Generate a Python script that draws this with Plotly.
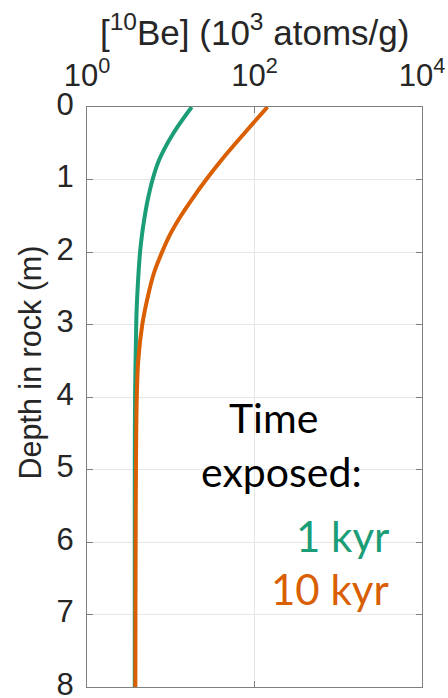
import plotly.graph_objects as go

# Depth (m) and 10Be concentration (10^3 atoms/g)
depth_1kyr = [0.0, 0.365, 0.73, 1.0, 1.29, 1.52, 1.75, 2.0, 2.66, 3.0, 4.0, 5.0, 6.0, 7.0, 8.0]
conc_1kyr = [17.8, 10.7, 7.26, 6.07, 5.29, 4.87, 4.55, 4.30, 3.96, 3.87, 3.75, 3.72, 3.72, 3.72, 3.72]

depth_10kyr = [0.0, 0.365, 0.73, 1.0, 1.29, 1.52, 1.75, 2.0, 2.3, 2.66, 3.0, 3.5, 4.0, 5.0, 6.0, 7.0, 8.0]
conc_10kyr = [143.0, 75.3, 40.4, 26.5, 17.5, 12.9, 9.9, 7.88, 6.26, 5.22, 4.57, 4.09, 3.93, 3.84, 3.81, 3.79, 3.78]

series_names = ["1 kyr", "10 kyr"]
series_colors = ["#1b9e77", "#d95f02"]

x_tickvals = [1, 100, 10000]
x_ticktext = ["10<sup>0</sup>", "10<sup>2</sup>", "10<sup>4</sup>"]
y_tickvals = [0, 1, 2, 3, 4, 5, 6, 7, 8]

x_title = "[<sup>10</sup>Be] (10<sup>3</sup> atoms/g)"
y_title = "Depth in rock (m)"

fig = go.Figure()
for name, d, c, col in zip(series_names, [depth_1kyr, depth_10kyr], [conc_1kyr, conc_10kyr], series_colors):
    fig.add_trace(go.Scatter(x=c, y=d, mode="lines", name=name,
                             line=dict(color=col, width=4, shape="spline", smoothing=1.0)))

axis_font = "Liberation Sans"
txt = "#262626"
frame = "#808080"
grid = "#e6e6e6"

fig.update_layout(
    width=448, height=698,
    margin=dict(l=87, r=26, t=107, b=11),
    paper_bgcolor="white", plot_bgcolor="white",
    showlegend=False,
    font=dict(family=axis_font, color=txt),
    xaxis=dict(
        type="log", range=[0, 4], side="top", automargin=False,
        tickvals=x_tickvals, ticktext=x_ticktext,
        tickfont=dict(family=axis_font, size=31, color=txt),
        ticks="inside", ticklen=6, tickcolor=frame,
        showline=True, linecolor=frame, linewidth=1, mirror="ticks",
        showgrid=True, gridcolor=grid, gridwidth=1,
        zeroline=False, ticklabelstandoff=8, ticklabeloverflow="allow",
    ),
    yaxis=dict(
        range=[8, 0], tickvals=y_tickvals, automargin=False,
        tickfont=dict(family=axis_font, size=31, color=txt),
        ticks="inside", ticklen=6, tickcolor=frame,
        showline=True, linecolor=frame, linewidth=1, mirror="ticks",
        showgrid=True, gridcolor=grid, gridwidth=1,
        zeroline=False, ticklabelstandoff=6, ticklabelshift=3,
        ticklabeloverflow="allow",
    ),
)

# axis titles
fig.add_annotation(xref="paper", yref="paper", x=0.5, y=1.1328, text=x_title,
                   showarrow=False, xanchor="center", yanchor="middle",
                   font=dict(family=axis_font, size=35, color=txt))
fig.add_annotation(xref="paper", yref="paper", x=-0.168, y=0.559, text=y_title,
                   showarrow=False, xanchor="center", yanchor="middle", textangle=-90,
                   font=dict(family=axis_font, size=30.5, color=txt))

ann_font = "Lato"
fig.add_annotation(xref="paper", yref="paper", x=0.558, y=0.4655, text="Time",
                   showarrow=False, xanchor="center", yanchor="middle",
                   font=dict(family=ann_font, size=41, color="black"))
fig.add_annotation(xref="paper", yref="paper", x=0.58, y=0.3707, text="exposed:",
                   showarrow=False, xanchor="center", yanchor="middle",
                   font=dict(family=ann_font, size=41, color="black"))
fig.add_annotation(xref="paper", yref="paper", x=0.907, y=0.26, text=series_names[0],
                   showarrow=False, xanchor="right", yanchor="middle",
                   font=dict(family=ann_font, size=42, color=series_colors[0]))
fig.add_annotation(xref="paper", yref="paper", x=0.907, y=0.169, text=series_names[1],
                   showarrow=False, xanchor="right", yanchor="middle",
                   font=dict(family=ann_font, size=42, color=series_colors[1]))

fig.write_html("out.html")
